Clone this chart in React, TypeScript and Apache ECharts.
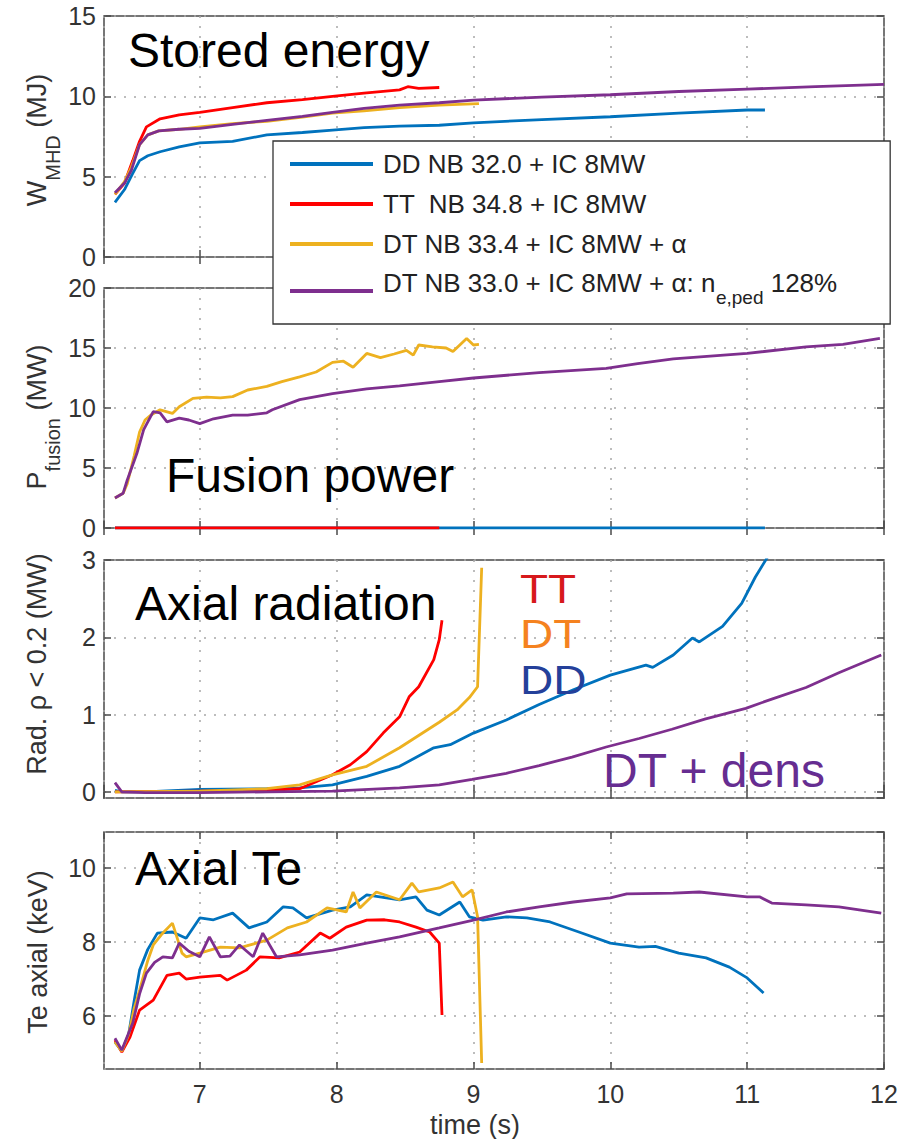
import React, { useEffect, useRef } from "react";
import * as echarts from "echarts";

const FF = '"Liberation Sans", Arial, Helvetica, sans-serif';

// series names / colours
const NAME_DD = "DD NB 32.0 + IC 8MW";
const NAME_TT = "TT  NB 34.8 + IC 8MW";
const NAME_DT = "DT NB 33.4 + IC 8MW + α";
const NAME_DN = "DT NB 33.0 + IC 8MW + α: ne,ped 128%";
const SERIES_NAMES = [NAME_DD, NAME_TT, NAME_DT, NAME_DN];
const COLORS = ["#0072BD", "#FF0000", "#EDB120", "#7E2F8E"];

// ---------- Panel 1: stored energy W_MHD (MJ) ----------
const wDD_t = [6.38, 6.45, 6.51, 6.56, 6.62, 6.71, 6.85, 7.0, 7.24, 7.49, 7.75, 7.97, 8.2, 8.46, 8.75, 9.0, 9.5, 10.0, 10.5, 11.0, 11.13];
const wDD_v = [3.4, 4.2, 5.2, 6.0, 6.3, 6.55, 6.85, 7.1, 7.2, 7.6, 7.75, 7.9, 8.05, 8.15, 8.2, 8.35, 8.55, 8.73, 8.95, 9.15, 9.15];
const wTT_t = [6.38, 6.45, 6.51, 6.56, 6.61, 6.71, 6.85, 7.0, 7.24, 7.49, 7.75, 7.97, 8.2, 8.46, 8.52, 8.6, 8.75];
const wTT_v = [3.9, 4.6, 6.0, 7.2, 8.1, 8.6, 8.85, 9.0, 9.3, 9.6, 9.8, 10.0, 10.2, 10.4, 10.6, 10.5, 10.55];
const wDT_t = [6.38, 6.45, 6.5, 6.56, 6.62, 6.7, 6.85, 7.0, 7.24, 7.49, 7.75, 7.97, 8.2, 8.46, 8.75, 9.04];
const wDT_v = [3.9, 4.7, 5.6, 7.0, 7.6, 7.85, 7.95, 8.1, 8.3, 8.45, 8.7, 8.95, 9.1, 9.3, 9.45, 9.55];
const wDN_t = [6.38, 6.45, 6.5, 6.56, 6.62, 6.7, 6.85, 7.0, 7.24, 7.49, 7.75, 7.97, 8.2, 8.46, 8.75, 9.0, 9.5, 10.0, 10.5, 11.0, 11.5, 12.0];
const wDN_v = [4.0, 4.6, 5.4, 7.0, 7.6, 7.85, 7.95, 8.0, 8.25, 8.5, 8.75, 9.0, 9.25, 9.45, 9.6, 9.77, 9.95, 10.1, 10.3, 10.45, 10.6, 10.75];

// ---------- Panel 2: fusion power (MW) ----------
const pDD_t = [6.38, 7.0, 8.0, 9.0, 10.0, 11.0, 11.13];
const pDD_v = [0, 0, 0, 0, 0, 0, 0];
const pTT_t = [6.38, 7.0, 8.0, 8.75];
const pTT_v = [0, 0, 0, 0];
const pDT_t = [6.38, 6.44, 6.47, 6.52, 6.56, 6.6, 6.64, 6.71, 6.8, 6.85, 6.95, 7.05, 7.15, 7.24, 7.35, 7.49, 7.6, 7.73, 7.85, 7.97, 8.05, 8.12, 8.22, 8.32, 8.42, 8.51, 8.56, 8.6, 8.7, 8.8, 8.85, 8.95, 9.0, 9.04];
const pDT_v = [2.5, 2.9, 3.7, 6.0, 8.0, 9.0, 9.4, 9.85, 9.55, 10.1, 10.8, 10.9, 10.85, 10.95, 11.5, 11.8, 12.2, 12.6, 13.0, 13.8, 13.9, 13.4, 14.55, 14.2, 14.5, 14.8, 14.4, 15.25, 15.1, 15.0, 14.7, 15.8, 15.25, 15.3];
const pDN_t = [6.38, 6.44, 6.47, 6.54, 6.59, 6.66, 6.71, 6.76, 6.85, 6.92, 7.0, 7.1, 7.24, 7.35, 7.49, 7.53, 7.73, 7.97, 8.22, 8.46, 8.75, 9.0, 9.48, 9.97, 10.2, 10.46, 11.0, 11.43, 11.7, 11.97];
const pDN_v = [2.5, 2.9, 4.0, 6.2, 8.2, 9.7, 9.6, 8.85, 9.15, 9.0, 8.7, 9.1, 9.4, 9.4, 9.6, 9.85, 10.7, 11.2, 11.6, 11.85, 12.2, 12.5, 12.95, 13.3, 13.7, 14.1, 14.55, 15.1, 15.3, 15.8];

// ---------- Panel 3: axial radiation rho < 0.2 (MW) ----------
const rDD_t = [6.38, 6.43, 6.6, 7.0, 7.49, 7.73, 7.97, 8.22, 8.46, 8.71, 8.83, 9.0, 9.24, 9.48, 9.73, 10.0, 10.26, 10.31, 10.46, 10.6, 10.65, 10.82, 10.96, 11.06, 11.17];
const rDD_v = [0.02, 0.0, 0.0, 0.03, 0.04, 0.05, 0.09, 0.2, 0.33, 0.57, 0.61, 0.76, 0.93, 1.13, 1.32, 1.51, 1.64, 1.61, 1.77, 1.99, 1.94, 2.14, 2.44, 2.78, 3.1];
const rTT_t = [6.38, 7.0, 7.5, 7.73, 7.85, 7.97, 8.1, 8.22, 8.34, 8.46, 8.53, 8.6, 8.71, 8.75, 8.77];
const rTT_v = [0.0, 0.01, 0.02, 0.04, 0.13, 0.22, 0.35, 0.52, 0.76, 0.97, 1.23, 1.36, 1.71, 1.97, 2.22];
const rDT_t = [6.38, 7.0, 7.49, 7.73, 7.97, 8.22, 8.46, 8.75, 8.88, 8.97, 9.03, 9.06];
const rDT_v = [0.0, 0.01, 0.04, 0.09, 0.22, 0.33, 0.57, 0.9, 1.06, 1.22, 1.36, 2.9];
const rDN_t = [6.38, 6.43, 6.6, 7.0, 7.5, 7.97, 8.46, 8.75, 8.99, 9.24, 9.48, 9.72, 9.97, 10.21, 10.45, 10.69, 10.99, 11.18, 11.43, 11.67, 11.98];
const rDN_v = [0.12, 0.0, -0.01, -0.01, 0.0, 0.01, 0.05, 0.09, 0.16, 0.24, 0.34, 0.45, 0.58, 0.69, 0.81, 0.94, 1.08, 1.2, 1.35, 1.54, 1.77];

// ---------- Panel 4: axial Te (keV) ----------
const tDD_t = [6.38, 6.43, 6.48, 6.52, 6.56, 6.62, 6.69, 6.8, 6.9, 7.0, 7.1, 7.24, 7.36, 7.49, 7.61, 7.68, 7.78, 7.97, 8.1, 8.22, 8.46, 8.58, 8.66, 8.75, 8.9, 8.97, 9.07, 9.24, 9.39, 9.56, 9.77, 10.0, 10.21, 10.33, 10.5, 10.7, 10.87, 11.0, 11.12];
const tDD_v = [5.3, 5.05, 5.5, 6.4, 7.24, 7.8, 8.24, 8.27, 8.1, 8.65, 8.6, 8.78, 8.38, 8.54, 8.95, 8.92, 8.65, 8.86, 8.95, 9.27, 9.14, 9.22, 8.86, 8.73, 9.08, 8.68, 8.59, 8.68, 8.65, 8.54, 8.27, 7.97, 7.86, 7.88, 7.7, 7.57, 7.32, 7.03, 6.62];
const tTT_t = [6.38, 6.43, 6.49, 6.56, 6.66, 6.76, 6.85, 6.9, 7.0, 7.15, 7.2, 7.34, 7.44, 7.58, 7.73, 7.88, 7.95, 8.07, 8.22, 8.35, 8.46, 8.58, 8.68, 8.75, 8.77];
const tTT_v = [5.35, 5.03, 5.43, 6.16, 6.43, 7.1, 7.16, 7.0, 7.05, 7.1, 6.97, 7.24, 7.6, 7.57, 7.73, 8.24, 8.1, 8.4, 8.59, 8.6, 8.54, 8.4, 8.27, 7.97, 6.03];
const tDT_t = [6.38, 6.43, 6.48, 6.52, 6.56, 6.62, 6.66, 6.72, 6.8, 6.87, 6.9, 7.0, 7.15, 7.29, 7.49, 7.64, 7.78, 7.93, 8.07, 8.12, 8.17, 8.29, 8.46, 8.55, 8.6, 8.75, 8.85, 8.92, 8.99, 9.03, 9.06];
const tDT_v = [5.3, 5.05, 5.5, 6.2, 6.7, 7.5, 7.92, 8.2, 8.51, 7.7, 7.6, 7.7, 7.86, 7.84, 8.05, 8.38, 8.54, 8.92, 8.81, 9.35, 8.92, 9.35, 9.14, 9.59, 9.35, 9.46, 9.62, 9.22, 9.41, 8.68, 4.73];
const tDN_t = [6.38, 6.43, 6.51, 6.56, 6.61, 6.67, 6.73, 6.8, 6.85, 6.92, 7.0, 7.07, 7.15, 7.22, 7.29, 7.39, 7.46, 7.56, 7.73, 7.97, 8.22, 8.46, 8.75, 9.0, 9.24, 9.48, 9.73, 10.0, 10.12, 10.46, 10.65, 11.0, 11.09, 11.18, 11.43, 11.67, 11.98];
const tDN_v = [5.4, 5.08, 5.81, 6.6, 7.16, 7.45, 7.6, 7.57, 7.97, 7.75, 7.6, 8.14, 7.6, 7.62, 7.92, 7.6, 8.24, 7.6, 7.65, 7.78, 7.97, 8.14, 8.38, 8.59, 8.81, 8.95, 9.08, 9.19, 9.3, 9.32, 9.35, 9.22, 9.22, 9.05, 9.0, 8.95, 8.78];

const PANELS = [
  [[wDD_t, wDD_v], [wTT_t, wTT_v], [wDT_t, wDT_v], [wDN_t, wDN_v]],
  [[pDD_t, pDD_v], [pTT_t, pTT_v], [pDT_t, pDT_v], [pDN_t, pDN_v]],
  [[rDD_t, rDD_v], [rTT_t, rTT_v], [rDT_t, rDT_v], [rDN_t, rDN_v]],
  [[tDD_t, tDD_v], [tTT_t, tTT_v], [tDT_t, tDT_v], [tDN_t, tDN_v]],
];

const GRID_TOPS = [16, 288, 560, 832];
const GRID_HEIGHTS = [241, 240, 238, 237];
const Y_RANGES: any[] = [
  { min: 0, max: 15, interval: 5 },
  { min: 0, max: 20, interval: 5 },
  { min: -0.08, max: 3, minInterval: 1, maxInterval: 1 },
  { min: 4.57, max: 10.97, minInterval: 2, maxInterval: 2 },
];

const pairs = (t: number[], v: number[]) => t.map((x, i) => [x, v[i]]);

export default function App() {
  const ref = useRef<HTMLDivElement>(null);
  useEffect(() => {
    if (!ref.current) return;
    const chart = echarts.init(ref.current, null, { renderer: "svg" });
    const frame = "#4a4a4a";
    const tickStyle = { color: frame, width: 1.5 };
    const splitStyle = { type: [2, 8] as any, color: "#a8a8a8", width: 1.5 };

    const grids = GRID_TOPS.map((top, i) => ({
      left: 104,
      width: 780,
      top,
      height: GRID_HEIGHTS[i],
      show: true,
      borderColor: frame,
      borderWidth: 1.5,
      backgroundColor: "transparent",
    }));

    const xAxes: any[] = [];
    const yAxes: any[] = [];
    for (let i = 0; i < 4; i++) {
      xAxes.push({
        type: "value",
        gridIndex: i,
        position: "bottom",
        min: 6.3,
        max: 12,
        minInterval: 1,
        maxInterval: 1,
        axisLine: { show: false },
        axisTick: { inside: true, length: 7, lineStyle: tickStyle },
        axisLabel: {
          show: i === 3,
          fontSize: 25,
          color: "#333",
          fontFamily: FF,
          margin: 12,
          showMinLabel: false,
        },
        splitLine: { show: true, lineStyle: splitStyle },
      });
      yAxes.push({
        type: "value",
        gridIndex: i,
        position: "left",
        ...Y_RANGES[i],
        axisLine: { show: false },
        axisTick: { inside: true, length: 7, lineStyle: tickStyle },
        axisLabel: {
          fontSize: 25,
          color: "#333",
          fontFamily: FF,
          margin: 8,
          showMinLabel: i < 2,
          showMaxLabel: i < 3,
        },
        splitLine: { show: true, lineStyle: splitStyle },
      });
    }
    for (let i = 0; i < 4; i++) {
      xAxes.push({
        type: "value",
        gridIndex: i,
        position: "top",
        min: 6.3,
        max: 12,
        minInterval: 1,
        maxInterval: 1,
        axisLine: { show: false },
        axisTick: { inside: true, length: 7, lineStyle: tickStyle },
        axisLabel: { show: false },
        splitLine: { show: false },
      });
      yAxes.push({
        type: "value",
        gridIndex: i,
        position: "right",
        ...Y_RANGES[i],
        axisLine: { show: false },
        axisTick: { inside: true, length: 7, lineStyle: tickStyle },
        axisLabel: { show: false },
        splitLine: { show: false },
      });
    }

    const series: any[] = [];
    PANELS.forEach((panel, p) => {
      panel.forEach(([t, v], s) => {
        series.push({
          type: "line",
          name: SERIES_NAMES[s],
          xAxisIndex: p,
          yAxisIndex: p,
          data: pairs(t as number[], v as number[]),
          showSymbol: false,
          symbol: "none",
          lineStyle: { color: COLORS[s], width: 2.8 },
          itemStyle: { color: COLORS[s] },
          z: 2 + s * 0.1,
        });
      });
    });

    const axisName = (x: number, y: number, main: string, sub: string, rest: string) => ({
      type: "text",
      x,
      y,
      rotation: Math.PI / 2,
      style: {
        text: sub ? `{m|${main}}{s|${sub}}{m|${rest}}` : `{m|${main}}`,
        align: "center",
        verticalAlign: "middle",
        fill: "#333",
        fontFamily: FF,
        fontSize: 27,
        rich: {
          m: { fontSize: 27, fontFamily: FF, fill: "#333", lineHeight: sub ? 52 : 30, verticalAlign: "middle" },
          s: { fontSize: 20, fontFamily: FF, fill: "#333", lineHeight: 20, verticalAlign: "bottom" },
        },
      },
    });

    const label = (x: number, y: number, text: string, color: string, size = 48, sx = 1) => ({
      type: "text",
      x,
      y,
      scaleX: sx,
      z: 10,
      style: {
        text,
        fill: color,
        fontFamily: FF,
        fontSize: size,
        lineHeight: size,
        align: "left",
        verticalAlign: "middle",
      },
    });

    const option: any = {
      animation: false,
      backgroundColor: "#fff",
      grid: grids,
      xAxis: xAxes,
      yAxis: yAxes,
      series,
      legend: {
        data: SERIES_NAMES,
        orient: "vertical",
        left: 273,
        top: 141,
        padding: [9, 53, 12, 17],
        itemGap: 12,
        itemWidth: 83,
        itemHeight: 4,
        icon: "rect",
        backgroundColor: "#fff",
        borderColor: "#333",
        borderWidth: 1.3,
        selectedMode: false,
        z: 6,
        formatter: (name: string) =>
          name === NAME_DN ? "{m|DT NB 33.0 + IC 8MW + α: n}{s|e,ped}{m| 128%}" : name,
        textStyle: {
          fontSize: 26,
          lineHeight: 28,
          color: "#222",
          fontFamily: FF,
          padding: [0, 0, 0, 5],
          rich: {
            m: { fontSize: 26, lineHeight: 20, padding: [0, 0, 16, 0], fontFamily: FF, color: "#222" },
            s: { fontSize: 19, lineHeight: 16, padding: [16, 0, 4, 0], fontFamily: FF, color: "#222" },
          },
        },
      },
      graphic: [
        axisName(37, 140, "W", "MHD", " (MJ)"),
        axisName(37, 417, "P", "fusion", " (MW)"),
        axisName(37, 664, "Rad. ρ < 0.2 (MW)", "", ""),
        axisName(38, 952, "Te axial (keV)", "", ""),
        {
          type: "text",
          x: 475,
          y: 1125,
          style: {
            text: "time (s)",
            fill: "#333",
            fontFamily: FF,
            fontSize: 27,
            align: "center",
            verticalAlign: "middle",
          },
        },
        label(128, 50, "Stored energy", "#000"),
        label(166, 475, "Fusion power", "#000"),
        label(135, 603, "Axial radiation", "#000"),
        label(135, 868, "Axial Te", "#000"),
        label(520, 589, "TT", "#D7191C", 40, 1.15),
        label(520, 634, "DT", "#F5821F", 40, 1.15),
        label(520, 680, "DD", "#24409A", 40, 1.15),
        label(603, 770, "DT + dens", "#662D91"),
      ],
    };
    chart.setOption(option);
    return () => chart.dispose();
  }, []);
  return (
    <div
      ref={ref}
      style={{ position: "absolute", left: 0, top: 0, width: 901, height: 1139, background: "#fff" }}
    />
  );
}
